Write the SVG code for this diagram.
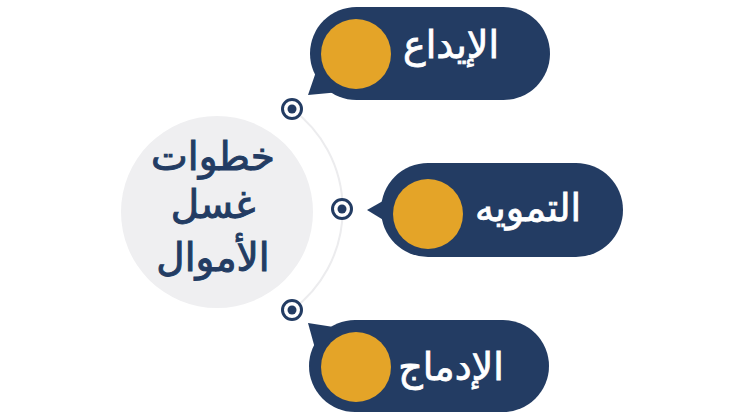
<svg xmlns="http://www.w3.org/2000/svg" width="744" height="420" viewBox="0 0 744 420">
<style>
.pill{fill:#233c63}
.knob{fill:#e4a428}
.lbl{font-family:"DejaVu Sans",sans-serif;font-size:38px;fill:#ffffff;text-anchor:middle;direction:rtl;stroke:#ffffff;stroke-width:0.8}
.ctr{font-family:"DejaVu Sans",sans-serif;font-size:39px;fill:#233c63;text-anchor:middle;direction:rtl;stroke:#233c63;stroke-width:1}
.ring{fill:#ffffff;stroke:#233c63;stroke-width:3}
.dot{fill:#233c63}
</style>
<rect width="744" height="420" fill="#ffffff"/>
<g id="connectors">
<path d="M292,109 A125,125 0 0 1 292,310" fill="none" stroke="#ececee" stroke-width="2"/>
</g>
<g id="center">
<circle cx="217" cy="212" r="96" fill="#efeff1"/>
<text class="ctr" x="213" y="170">خطوات</text>
<text class="ctr" x="213" y="218">غسل</text>
<text class="ctr" x="213" y="271">الأموال</text>
</g>
<g id="dot1"><circle class="ring" cx="292" cy="109" r="9.5"/><circle class="dot" cx="292" cy="109" r="4.5"/></g>
<g id="dot2"><circle class="ring" cx="342" cy="209" r="9.5"/><circle class="dot" cx="342" cy="209" r="4.5"/></g>
<g id="dot3"><circle class="ring" cx="292" cy="310" r="9.5"/><circle class="dot" cx="292" cy="310" r="4.5"/></g>
<g id="step1">
<rect class="pill" x="310" y="7" width="240" height="93" rx="46.5"/>
<polygon class="pill" points="318,66 308,95 340,92"/>
<circle class="knob" cx="356" cy="54" r="35"/>
<text class="lbl" x="451" y="58">الإيداع</text>
</g>
<g id="step2">
<rect class="pill" x="381" y="163" width="242" height="94" rx="47"/>
<polygon class="pill" points="390,197 367,210 390,224"/>
<circle class="knob" cx="428" cy="214" r="35"/>
<text class="lbl" x="528" y="221">التمويه</text>
</g>
<g id="step3">
<rect class="pill" x="309" y="320" width="240" height="92" rx="46"/>
<polygon class="pill" points="308,323 340,328 316,352"/>
<circle class="knob" cx="356" cy="367" r="35"/>
<text class="lbl" x="451" y="380">الإدماج</text>
</g>
</svg>
